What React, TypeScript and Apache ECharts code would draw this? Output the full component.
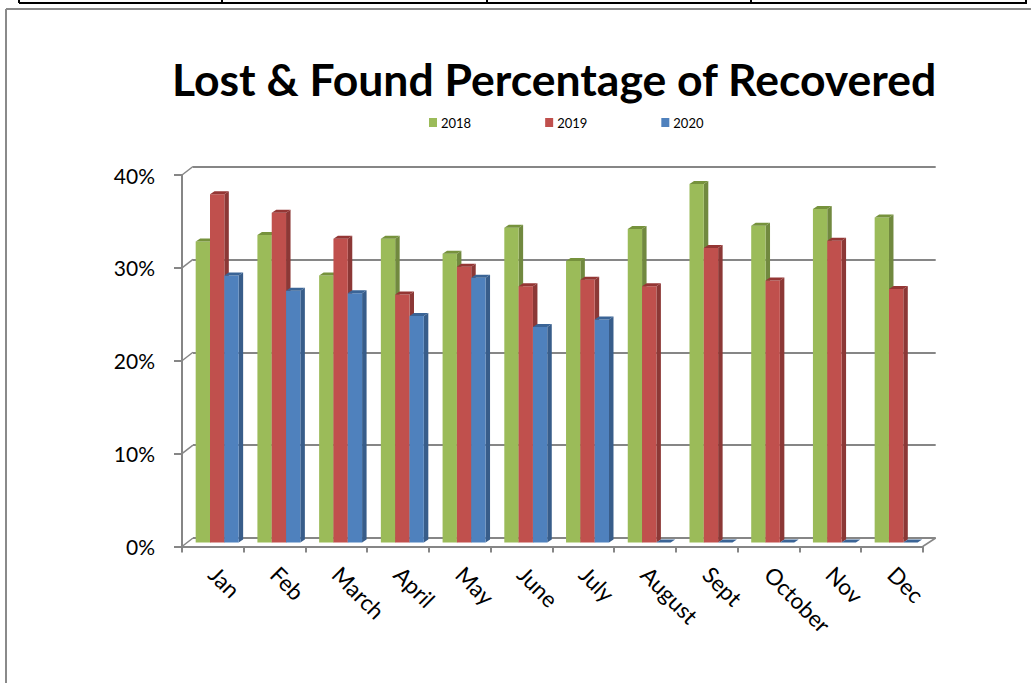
import React, { useEffect, useRef } from "react";
import * as echarts from "echarts";

const months = ["Jan", "Feb", "March", "April", "May", "June", "July", "August", "Sept", "October", "Nov", "Dec"];
const years = ["2018", "2019", "2020"];
const values2018 = [32.4, 33.1, 28.75, 32.7, 31.1, 33.9, 30.3, 33.75, 38.6, 34.1, 35.9, 35.0];
const values2019 = [37.5, 35.5, 32.7, 26.7, 29.7, 27.6, 28.3, 27.6, 31.7, 28.2, 32.5, 27.3];
const values2020 = [28.75, 27.1, 26.85, 24.4, 28.5, 23.2, 24.0, 0, 0, 0, 0, 0];
const yTicks = [0, 10, 20, 30, 40];
const titleText = "Lost & Found Percentage of Recovered";

const seriesValues = [values2018, values2019, values2020];
const palette = [
  { front: "#9BBB59", side: "#71893F", top: "#76923C" },
  { front: "#C0504D", side: "#8C3836", top: "#943634" },
  { front: "#4F81BD", side: "#385D8A", top: "#3A6496" },
];

// layout (pixels)
const FRONT = { left: 182, right: 922.7, top: 175, bottom: 546.5 };
const BACK_DX = 11;
const BACK_DY = -8.5;
const MID_DX = 4.3;
const MID_DY = -4;
const SIDE_DX = 4.5;
const SIDE_DY = -3;
const GRID_COLOR = "#868686";
const FONT = "Lato, 'Open Sans', sans-serif";

export default function App() {
  const ref = useRef<HTMLDivElement>(null);
  useEffect(() => {
    if (!ref.current) return;
    const chart = echarts.init(ref.current, undefined, { renderer: "svg" });
    const W = 1031;
    const H = 683;
    const yMax = yTicks[yTicks.length - 1];
    const yFront = (v: number) => FRONT.bottom - (v / yMax) * (FRONT.bottom - FRONT.top);

    const graphics: any[] = [];
    // top table line
    graphics.push({ type: "line", shape: { x1: 19, y1: 3, x2: 1027, y2: 3 }, style: { stroke: "#000", lineWidth: 2 } });
    [19, 222, 487, 751, 1026].forEach((x) =>
      graphics.push({ type: "line", shape: { x1: x, y1: 0, x2: x, y2: 3 }, style: { stroke: "#000", lineWidth: 2 } })
    );
    // chart border
    graphics.push({ type: "line", shape: { x1: 6, y1: 9, x2: 1031, y2: 9 }, style: { stroke: "#8a8a8a", lineWidth: 2 } });
    graphics.push({ type: "line", shape: { x1: 6, y1: 9, x2: 6, y2: 683 }, style: { stroke: "#8a8a8a", lineWidth: 2 } });
    // left wall diagonals
    yTicks.forEach((v) => {
      const y = yFront(v);
      graphics.push({
        type: "line",
        shape: { x1: FRONT.left, y1: y, x2: FRONT.left + BACK_DX, y2: y + BACK_DY },
        style: { stroke: GRID_COLOR, lineWidth: 1.5 },
      });
    });
    // floor right diagonal
    graphics.push({
      type: "line",
      shape: { x1: FRONT.right, y1: FRONT.bottom, x2: FRONT.right + BACK_DX + 2, y2: FRONT.bottom + BACK_DY },
      style: { stroke: GRID_COLOR, lineWidth: 1.5 },
    });

    const makeRender = (s: number) => (params: any, api: any) => {
      const idx = api.value(0);
      const v = api.value(1);
      const base = api.coord([idx, 0]);
      const topPt = api.coord([idx, v]);
      const band = api.size([1, 0])[0];
      const w = band * 0.232;
      const cx = base[0] + MID_DX;
      const left = cx - 1.5 * w + s * w;
      const y0 = base[1] + MID_DY;
      const y1 = topPt[1] + MID_DY;
      const c = palette[s];
      const children: any[] = [];
      if (y0 - y1 > 0.5) {
        children.push({
          type: "polygon",
          shape: { points: [[left + w, y1], [left + w + SIDE_DX, y1 + SIDE_DY], [left + w + SIDE_DX, y0 + SIDE_DY], [left + w, y0]] },
          style: { fill: c.side },
        });
        children.push({
          type: "rect",
          shape: { x: left, y: y1, width: w, height: y0 - y1 },
          style: { fill: c.front },
        });
      }
      children.push({
        type: "polygon",
        shape: { points: [[left, y1], [left + SIDE_DX, y1 + SIDE_DY], [left + w + SIDE_DX, y1 + SIDE_DY], [left + w, y1]] },
        style: { fill: c.top },
      });
      return { type: "group", children };
    };

    chart.setOption({
      animation: false,
      backgroundColor: "#fff",
      title: {
        text: titleText,
        left: 167,
        top: 51,
        textStyle: { fontFamily: FONT, fontWeight: "bold", fontSize: 44.5, color: "#000" },
      },
      legend: {
        data: years.map((y) => ({ name: y, icon: "rect" })),
        left: 424,
        top: 111,
        itemWidth: 8,
        itemHeight: 9,
        itemGap: 74,
        textStyle: { fontFamily: FONT, fontSize: 13, color: "#000", padding: [0, 0, 0, -1] },
      },
      grid: [
        { left: FRONT.left, right: W - FRONT.right, top: FRONT.top, bottom: H - FRONT.bottom },
        {
          left: FRONT.left + BACK_DX,
          right: W - FRONT.right - BACK_DX - 2,
          top: FRONT.top + BACK_DY,
          bottom: H - FRONT.bottom - BACK_DY,
        },
      ],
      xAxis: [
        {
          type: "category",
          gridIndex: 0,
          data: months,
          boundaryGap: true,
          axisLine: { lineStyle: { color: GRID_COLOR, width: 2 } },
          axisTick: { show: true, length: 6, lineStyle: { color: GRID_COLOR, width: 2 } },
          axisLabel: { rotate: -45, margin: 24, fontFamily: FONT, fontSize: 22.5, color: "#000", interval: 0 },
          z: 1,
        },
        { type: "category", gridIndex: 1, data: months, show: false },
      ],
      yAxis: [
        {
          type: "value",
          gridIndex: 0,
          min: 0,
          max: yMax,
          interval: 10,
          axisLine: { show: true, lineStyle: { color: GRID_COLOR, width: 2 } },
          axisTick: { show: true, length: 8, lineStyle: { color: GRID_COLOR, width: 2 } },
          splitLine: { show: false },
          axisLabel: { formatter: "{value}%", margin: 27, fontFamily: FONT, fontSize: 21, color: "#000" },
          z: 1,
        },
        {
          type: "value",
          gridIndex: 1,
          min: 0,
          max: yMax,
          interval: 10,
          axisLine: { show: false },
          axisTick: { show: false },
          axisLabel: { show: false },
          splitLine: { show: true, lineStyle: { color: GRID_COLOR, width: 2 } },
        },
      ],
      series: years.map((y, s) => ({
        name: y,
        type: "custom",
        xAxisIndex: 0,
        yAxisIndex: 0,
        itemStyle: { color: palette[s].front },
        data: seriesValues[s].map((v, i) => [i, v]),
        encode: { x: 0, y: 1 },
        renderItem: makeRender(s),
        z: 3 + s,
      })),
      graphic: graphics,
    });
    return () => chart.dispose();
  }, []);
  return <div ref={ref} style={{ position: "fixed", left: 0, top: 0, width: 1031, height: 683 }} />;
}
